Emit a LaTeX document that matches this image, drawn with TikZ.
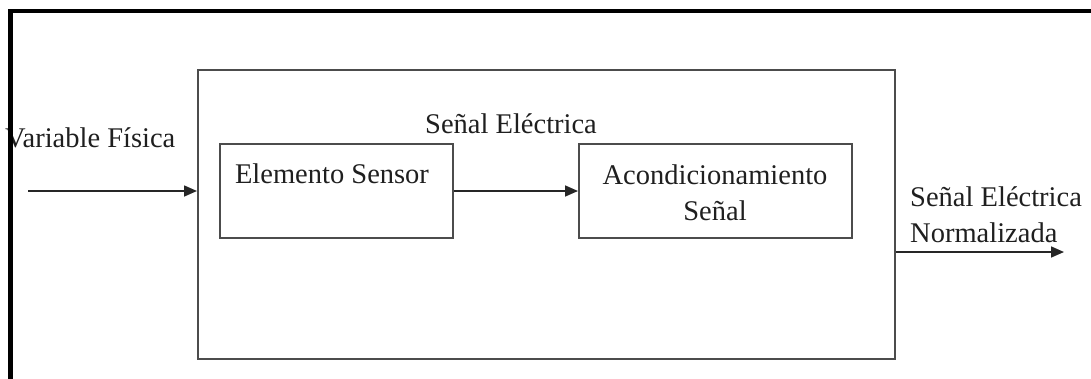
\documentclass[tikz,border=0pt]{standalone}
\usepackage{fontspec}
\setmainfont{Liberation Serif}
\usetikzlibrary{arrows.meta}
\begin{document}
\begin{tikzpicture}[x=1pt,y=-1pt,
  lbl/.style={inner sep=0pt,font=\fontsize{28.5}{36}\selectfont,text=black!88},
  blockbox/.style={draw=black!70,line width=2pt,fill=none},
  flow/.style={draw=black!85,line width=1.6pt,-{Triangle[length=13pt,width=11pt]}},
  frame/.style={draw=black,line width=4.5pt}]
\useasboundingbox (0,0) rectangle (1091,378);
\clip (0,0) rectangle (1091,378);
% blocks
\node[blockbox,minimum width=697pt,minimum height=289pt,anchor=north west] (sys) at (197,69) {};
\node[blockbox,minimum width=233pt,minimum height=94pt,anchor=north west] (sens) at (219,143) {};
\node[blockbox,minimum width=273pt,minimum height=94pt,anchor=north west] (cond) at (578,143) {};
% texts (multi-line labels are anchored at the baseline of their last line)
\node[lbl,anchor=base west] (varf) at (5,147) {Variable Física};
\node[lbl,anchor=base] (sele) at (511,133) {Señal Eléctrica};
\node[lbl,anchor=base] (tsens) at (332,183) {Elemento Sensor};
\node[lbl,anchor=base,align=center] (tcond) at (715,220) {Acondicionamiento\\Señal};
\node[lbl,anchor=base west,align=left] (sout) at (910,242) {Señal Eléctrica\\Normalizada};
% connectors
\coordinate (inp) at (28,191);
\coordinate (outp) at (1064,252);
\draw[flow] (inp) -- (inp -| sys.west);
\draw[flow] (sens.east |- 0,191) -- (cond.west |- 0,191);
\draw[flow] (sys.east |- outp) -- (outp);
% outer frame
\draw[frame] (10.5,400) -- (10.5,11) -- (1100,11);
\end{tikzpicture}
\end{document}
